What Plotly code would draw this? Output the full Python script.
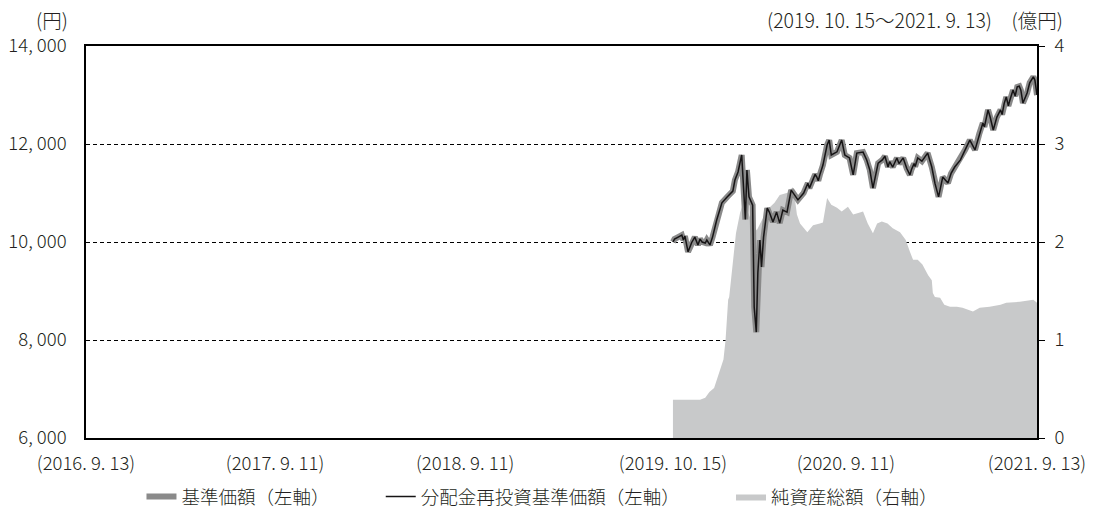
import plotly.graph_objects as go

# ---- data ----
price_dates = [
    "2019-10-15", "2019-10-18", "2019-10-25", "2019-11-01", "2019-11-04", "2019-11-07",
    "2019-11-13", "2019-11-20", "2019-11-26", "2019-12-02", "2019-12-06", "2019-12-10",
    "2019-12-16", "2019-12-19", "2019-12-25", "2019-12-30", "2020-01-07", "2020-01-13",
    "2020-01-17", "2020-01-27", "2020-01-31", "2020-02-07", "2020-02-11", "2020-02-17",
    "2020-02-24", "2020-02-26", "2020-03-02", "2020-03-05", "2020-03-09", "2020-03-16",
    "2020-03-17", "2020-03-19", "2020-03-23", "2020-03-26", "2020-03-30", "2020-04-02",
    "2020-04-06", "2020-04-13", "2020-04-17", "2020-04-24", "2020-05-01", "2020-05-07",
    "2020-05-13", "2020-05-21", "2020-05-29", "2020-06-05", "2020-06-11", "2020-06-22",
    "2020-06-30", "2020-07-03", "2020-07-10", "2020-07-14", "2020-07-17", "2020-07-20",
    "2020-07-23", "2020-07-29", "2020-08-06",
    "2020-08-10", "2020-08-14", "2020-08-25", "2020-09-03", "2020-09-09", "2020-09-18",
    "2020-09-25", "2020-10-02", "2020-10-14", "2020-10-21", "2020-10-27", "2020-11-02",
    "2020-11-12", "2020-11-20", "2020-11-25", "2020-12-01", "2020-12-04", "2020-12-10",
    "2020-12-14", "2020-12-18", "2020-12-22", "2020-12-30",
    "2021-01-06", "2021-01-12", "2021-01-15", "2021-01-20", "2021-01-22", "2021-01-27",
    "2021-02-04", "2021-02-15",
    "2021-02-23", "2021-03-01", "2021-03-08", "2021-03-16", "2021-03-26", "2021-04-01",
    "2021-04-08", "2021-04-19", "2021-04-28", "2021-05-07", "2021-05-17", "2021-05-25",
    "2021-06-01", "2021-06-04", "2021-06-11", "2021-06-15", "2021-06-21", "2021-06-28",
    "2021-07-05", "2021-07-08", "2021-07-12", "2021-07-16", "2021-07-20", "2021-07-23",
    "2021-07-29", "2021-08-02", "2021-08-04", "2021-08-06", "2021-08-10", "2021-08-13",
    "2021-08-17", "2021-08-25", "2021-08-30", "2021-09-06", "2021-09-09", "2021-09-13",
]
nav_price = [
    10000, 10060, 10100, 10140, 10040, 10120,
    9800, 9990, 10100, 9940, 10060, 10000,
    9980, 10040, 9940, 10100, 10450, 10650,
    10800, 10920, 10960, 11040, 11265, 11430,
    11775, 11410, 10460, 11470, 10920, 10750,
    9570, 8670, 8160, 9370, 10040, 9490,
    10100, 10690, 10610, 10410, 10610, 10385,
    10650, 10610, 11060, 10960, 10860, 11000,
    11200, 11100, 11265, 11380, 11330, 11250,
    11370, 11570, 11980,
    12080, 11775, 11840, 12080, 11775, 11715,
    11370, 11815, 11835, 11675, 11470, 11100,
    11610, 11675, 11750, 11530, 11640, 11530,
    11620, 11715, 11600, 11715,
    11500, 11370, 11480, 11600, 11540, 11715,
    11650, 11815,
    11530, 11200, 10920, 11325, 11205, 11400,
    11530, 11675, 11880, 12080, 11880, 12200,
    12430, 12350, 12695, 12550, 12285, 12550,
    12695, 12600, 12830, 12960, 12780, 12900,
    13100, 12980, 13050, 13165, 13180, 13100,
    12835, 13040, 13250, 13370, 13300, 13000,
]
# no distributions paid -> reinvested NAV equals NAV
nav_reinvested = list(nav_price)

asset_dates = [
    "2019-10-15", "2019-12-06", "2019-12-16", "2019-12-24", "2020-01-02", "2020-01-09",
    "2020-01-15", "2020-01-20", "2020-01-24", "2020-01-29", "2020-01-31", "2020-02-07",
    "2020-02-13", "2020-02-21", "2020-02-26", "2020-03-05", "2020-03-17", "2020-03-24",
    "2020-04-02", "2020-04-13", "2020-04-17", "2020-04-27", "2020-05-07", "2020-05-18",
    "2020-05-27", "2020-06-01", "2020-06-05", "2020-06-09", "2020-06-15", "2020-06-29",
    "2020-07-10", "2020-07-23", "2020-07-29", "2020-08-06", "2020-08-14", "2020-08-25",
    "2020-09-03", "2020-09-15", "2020-09-25", "2020-10-08", "2020-10-14", "2020-10-23",
    "2020-11-02", "2020-11-10", "2020-11-19", "2020-11-30", "2020-12-10", "2020-12-24",
    "2021-01-04", "2021-01-12", "2021-01-18", "2021-01-27", "2021-02-05", "2021-02-16",
    "2021-02-23", "2021-02-25", "2021-03-01", "2021-03-11", "2021-03-19", "2021-03-30",
    "2021-04-12", "2021-04-23", "2021-05-13", "2021-05-26", "2021-06-14", "2021-07-05",
    "2021-07-16", "2021-08-11", "2021-09-06", "2021-09-13",
]
net_assets = [
    0.39, 0.39, 0.41, 0.47, 0.51, 0.62,
    0.71, 0.80, 1.00, 1.41, 1.44, 1.79,
    2.09, 2.30, 2.38, 2.33, 2.17, 2.12,
    2.22, 2.33, 2.35, 2.40, 2.48, 2.50,
    2.51, 2.56, 2.45, 2.28, 2.19, 2.10,
    2.17, 2.19, 2.20, 2.45, 2.38, 2.35,
    2.31, 2.36, 2.28, 2.30, 2.31, 2.19,
    2.09, 2.19, 2.21, 2.19, 2.14, 2.10,
    2.02, 1.90, 1.82, 1.82, 1.77, 1.66,
    1.61, 1.48, 1.44, 1.43, 1.36, 1.34,
    1.34, 1.33, 1.29, 1.33, 1.34, 1.36,
    1.38, 1.39, 1.41, 1.38,
]

x_tick_dates = ["2016-09-13", "2017-09-11", "2018-09-11", "2019-10-15", "2020-09-11", "2021-09-13"]
x_tick_text = ["(2016. 9. 13)", "(2017. 9. 11)", "(2018. 9. 11)", "(2019. 10. 15)", "(2020. 9. 11)", "(2021. 9. 13)"]
left_ticks = [6000, 8000, 10000, 12000, 14000]
left_tick_text = ["6, 000", "8, 000", "10, 000", "12, 000", "14, 000"]
right_ticks = [0, 1, 2, 3, 4]

FONT = "Noto Sans CJK JP"
TXT = "#231f20"
PAD = "\u3000\u3000\u3000"   # visual spacing between legend entries

fig = go.Figure()

fig.add_trace(go.Scatter(
    x=asset_dates, y=net_assets, name="純資産総額（右軸）",
    mode="lines", line=dict(width=0, color="#c8c9ca"),
    fill="tozeroy", fillcolor="#c8c9ca", yaxis="y", legendrank=3,
    hoverinfo="skip",
))
fig.add_trace(go.Scatter(
    x=price_dates, y=nav_price, name="基準価額（左軸）" + PAD,
    mode="lines", line=dict(width=6, color="#8a8a8a"), yaxis="y2", legendrank=1,
))
fig.add_trace(go.Scatter(
    x=price_dates, y=nav_reinvested, name="分配金再投資基準価額（左軸）" + PAD,
    mode="lines", line=dict(width=1.5, color="#161415"), yaxis="y2", legendrank=2,
))

tick_font = dict(family=FONT, size=18.5, color=TXT, weight=300)
note_font = dict(family=FONT, size=19.5, color=TXT, weight=300)

fig.update_layout(
    width=1093, height=521,
    margin=dict(l=86, r=56, t=46, b=83),
    paper_bgcolor="white", plot_bgcolor="white",
    font=dict(family=FONT, size=18, color=TXT, weight=300),
    showlegend=True,
    legend=dict(orientation="h", x=0.48, xanchor="center", yref="container", y=0.046,
                yanchor="middle", font=dict(family=FONT, size=18.5, color=TXT, weight=300),
                itemwidth=30, traceorder="normal"),
    xaxis=dict(type="date", range=["2016-09-13", "2021-09-13"], automargin=False,
               tickvals=x_tick_dates, ticktext=x_tick_text, tickangle=0,
               showgrid=False, zeroline=False, showline=True, mirror=True,
               linecolor="#000000", linewidth=1.5, ticks="", ticklabelstandoff=8,
               tickfont=tick_font),
    yaxis=dict(range=[0, 4], side="right", tickvals=right_ticks, automargin=False,
               ticks="outside", ticklen=6, tickcolor="#000000", tickwidth=1.2,
               showgrid=True, gridcolor="#000000", gridwidth=1, griddash="4px,3px",
               zeroline=False, showline=True, mirror=True,
               linecolor="#000000", linewidth=1.5, ticklabelstandoff=6,
               tickfont=tick_font),
    yaxis2=dict(range=[6000, 14000], overlaying="y", side="left", automargin=False,
                tickvals=left_ticks, ticktext=left_tick_text, ticks="",
                showgrid=False, zeroline=False, showline=True,
                linecolor="#000000", linewidth=1.5, ticklabelstandoff=14,
                tickfont=tick_font),
    annotations=[
        dict(text="(円)", xref="paper", yref="paper", x=-0.036, y=1.068,
             xanchor="center", yanchor="middle", showarrow=False, font=note_font),
        dict(text="(2019. 10. 15～2021. 9. 13)\u3000(億円)", xref="paper", yref="paper",
             x=1.0295, y=1.068, xanchor="right", yanchor="middle", showarrow=False,
             font=note_font),
    ],
)

fig.write_html(
    "out.html",
    config={"displayModeBar": False},
    post_script="document.body.style.margin='0';document.body.style.overflow='hidden';",
)
